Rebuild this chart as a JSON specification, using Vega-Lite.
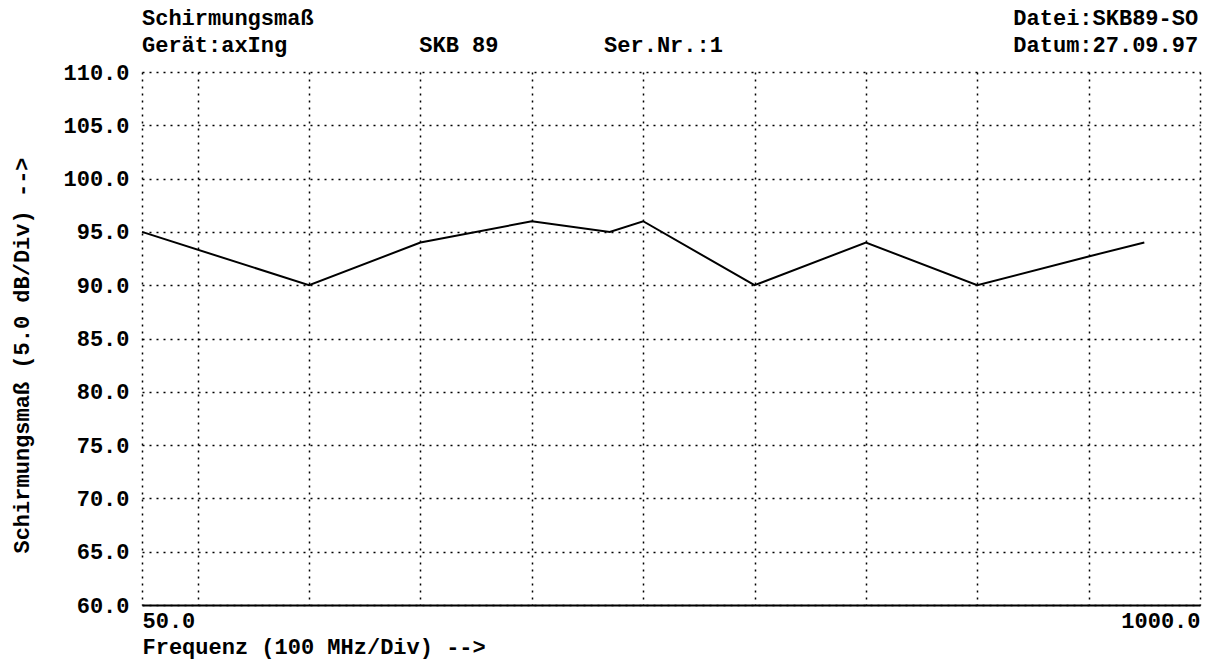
{
  "$schema": "https://vega.github.io/schema/vega-lite/v6.json",
  "width": 1058,
  "height": 533,
  "autosize": "none",
  "padding": {"left": 142, "top": 72, "right": 12, "bottom": 56},
  "background": "white",
  "config": {
    "font": "Liberation Mono",
    "view": {"stroke": null}
  },
  "title": {
    "text": [
      "Schirmungsmaß\u00a0\u00a0\u00a0\u00a0\u00a0\u00a0\u00a0\u00a0\u00a0\u00a0\u00a0\u00a0\u00a0\u00a0\u00a0\u00a0\u00a0\u00a0\u00a0\u00a0\u00a0\u00a0\u00a0\u00a0\u00a0\u00a0\u00a0\u00a0\u00a0\u00a0\u00a0\u00a0\u00a0\u00a0\u00a0\u00a0\u00a0\u00a0\u00a0\u00a0\u00a0\u00a0\u00a0\u00a0\u00a0\u00a0\u00a0\u00a0\u00a0\u00a0\u00a0\u00a0\u00a0Datei:SKB89-SO",
      "Gerät:axIng\u00a0\u00a0\u00a0\u00a0\u00a0\u00a0\u00a0\u00a0\u00a0\u00a0SKB 89\u00a0\u00a0\u00a0\u00a0\u00a0\u00a0\u00a0\u00a0Ser.Nr.:1\u00a0\u00a0\u00a0\u00a0\u00a0\u00a0\u00a0\u00a0\u00a0\u00a0\u00a0\u00a0\u00a0\u00a0\u00a0\u00a0\u00a0\u00a0\u00a0\u00a0\u00a0\u00a0Datum:27.09.97"
    ],
    "anchor": "start",
    "frame": "group",
    "font": "Liberation Mono",
    "fontSize": 22,
    "fontWeight": "bold",
    "color": "black",
    "lineHeight": 27,
    "offset": 4
  },
  "data": {
    "values": [
      {"freq": 50, "db": 95},
      {"freq": 200, "db": 90},
      {"freq": 300, "db": 94},
      {"freq": 400, "db": 96},
      {"freq": 470, "db": 95},
      {"freq": 500, "db": 96},
      {"freq": 600, "db": 90},
      {"freq": 700, "db": 94},
      {"freq": 800, "db": 90},
      {"freq": 900, "db": 92.7},
      {"freq": 950, "db": 94}
    ]
  },
  "mark": {"type": "line", "color": "black", "strokeWidth": 2},
  "encoding": {
    "x": {
      "field": "freq",
      "type": "quantitative",
      "scale": {"domain": [50, 1000], "nice": false, "zero": false},
      "axis": {
        "values": [50, 100, 200, 300, 400, 500, 600, 700, 800, 900, 1000],
        "labelExpr": "datum.value == 50 || datum.value == 1000 ? format(datum.value, '.1f') : ''",
        "labelFlush": true,
        "labelFont": "Liberation Mono",
        "labelFontSize": 22,
        "labelFontWeight": "bold",
        "labelColor": "black",
        "labelPadding": 5,
        "ticks": false,
        "grid": true,
        "gridColor": "black",
        "gridOpacity": 1,
        "gridDash": [2, 5],
        "gridWidth": 1.5,
        "domainColor": "black",
        "domainWidth": 2,
        "title": "Frequenz (100 MHz/Div) -->",
        "titleFont": "Liberation Mono",
        "titleFontSize": 22,
        "titleFontWeight": "bold",
        "titleColor": "black",
        "titleAnchor": "start",
        "titleAlign": "left",
        "titleBaseline": "middle",
        "titleX": 0,
        "titleY": 41
      }
    },
    "y": {
      "field": "db",
      "type": "quantitative",
      "scale": {"domain": [60, 110], "nice": false, "zero": false},
      "axis": {
        "values": [60, 65, 70, 75, 80, 85, 90, 95, 100, 105, 110],
        "format": ".1f",
        "labelFont": "Liberation Mono",
        "labelFontSize": 22,
        "labelFontWeight": "bold",
        "labelColor": "black",
        "labelPadding": 13,
        "ticks": false,
        "domain": false,
        "grid": true,
        "gridColor": "black",
        "gridOpacity": 1,
        "gridDash": [2, 5],
        "gridWidth": 1.5,
        "title": "Schirmungsmaß (5.0 dB/Div) -->",
        "titleFont": "Liberation Mono",
        "titleFontSize": 22,
        "titleFontWeight": "bold",
        "titleColor": "black",
        "titleAngle": 270,
        "titleAlign": "center",
        "titleBaseline": "middle",
        "titleX": -121,
        "titleY": 283
      }
    }
  }
}
